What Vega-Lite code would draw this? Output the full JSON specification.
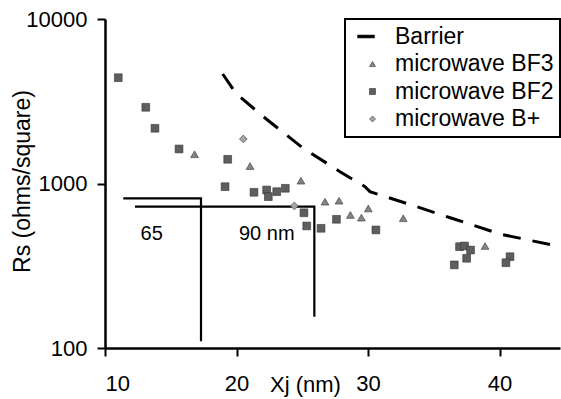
{
  "$schema": "https://vega.github.io/schema/vega-lite/v6.json",
  "width": 455,
  "height": 329,
  "autosize": {"type": "none"},
  "padding": {"left": 105, "top": 19, "right": 1, "bottom": 51},
  "background": "white",
  "config": {
    "view": {"stroke": null},
    "font": "Liberation Sans",
    "axis": {
      "grid": false,
      "domainColor": "black",
      "domainWidth": 2.5,
      "tickColor": "black",
      "tickWidth": 2,
      "tickSize": 8,
      "labelFont": "Liberation Sans",
      "labelFontSize": 22,
      "labelColor": "black",
      "titleFont": "Liberation Sans",
      "titleFontSize": 22,
      "titleFontWeight": "normal",
      "titleColor": "black"
    },
    "legend": {
      "labelFont": "Liberation Sans",
      "labelFontSize": 23,
      "labelColor": "black",
      "symbolSize": 36,
      "symbolOffset": 10,
      "labelOffset": 11,
      "rowPadding": 3.5,
      "padding": 6,
      "strokeColor": "black",
      "strokeWidth": 2,
      "symbolStrokeWidth": 0.6,
      "symbolStrokeColor": "#333333"
    }
  },
  "datasets": {
    "points": [
      {"series": "microwave BF2", "x": 11.01, "y": 4398},
      {"series": "microwave BF2", "x": 13.1, "y": 2905},
      {"series": "microwave BF2", "x": 13.8, "y": 2166},
      {"series": "microwave BF2", "x": 15.63, "y": 1621},
      {"series": "microwave BF2", "x": 19.33, "y": 1403},
      {"series": "microwave BF2", "x": 19.13, "y": 957},
      {"series": "microwave BF2", "x": 21.33, "y": 884},
      {"series": "microwave BF2", "x": 22.29, "y": 913},
      {"series": "microwave BF2", "x": 22.42, "y": 832},
      {"series": "microwave BF2", "x": 23.06, "y": 892},
      {"series": "microwave BF2", "x": 23.71, "y": 935},
      {"series": "microwave BF2", "x": 25.13, "y": 664},
      {"series": "microwave BF2", "x": 25.34, "y": 552},
      {"series": "microwave BF2", "x": 26.43, "y": 534},
      {"series": "microwave BF2", "x": 27.6, "y": 606},
      {"series": "microwave BF2", "x": 30.6, "y": 522},
      {"series": "microwave BF2", "x": 36.96, "y": 413},
      {"series": "microwave BF2", "x": 37.34, "y": 417},
      {"series": "microwave BF2", "x": 37.8, "y": 394},
      {"series": "microwave BF2", "x": 37.5, "y": 351},
      {"series": "microwave BF2", "x": 36.56, "y": 320},
      {"series": "microwave BF2", "x": 40.8, "y": 359},
      {"series": "microwave BF2", "x": 40.49, "y": 330},
      {"series": "microwave BF3", "x": 16.81, "y": 1506},
      {"series": "microwave BF3", "x": 21.03, "y": 1277},
      {"series": "microwave BF3", "x": 24.9, "y": 1040},
      {"series": "microwave BF3", "x": 26.73, "y": 775},
      {"series": "microwave BF3", "x": 27.8, "y": 786},
      {"series": "microwave BF3", "x": 28.66, "y": 644},
      {"series": "microwave BF3", "x": 29.5, "y": 620},
      {"series": "microwave BF3", "x": 30.02, "y": 705},
      {"series": "microwave BF3", "x": 32.68, "y": 615},
      {"series": "microwave BF3", "x": 38.9, "y": 417},
      {"series": "microwave B+", "x": 20.52, "y": 1865},
      {"series": "microwave B+", "x": 24.4, "y": 730}
    ],
    "barrier": [
      {"x": 18.95, "y": 4632},
      {"x": 19.96, "y": 3534},
      {"x": 22.04, "y": 2548},
      {"x": 25.08, "y": 1637},
      {"x": 27.87, "y": 1180},
      {"x": 29.77, "y": 957},
      {"x": 30.15, "y": 892},
      {"x": 33.32, "y": 740},
      {"x": 36.37, "y": 615},
      {"x": 40.04, "y": 493},
      {"x": 44.6, "y": 413}
    ],
    "refs": [
      {"ref": "65", "i": 1, "x": 11.39, "y": 813},
      {"ref": "65", "i": 2, "x": 17.3, "y": 813},
      {"ref": "65", "i": 3, "x": 17.3, "y": 110},
      {"ref": "90", "i": 1, "x": 12.28, "y": 723},
      {"ref": "90", "i": 2, "x": 25.92, "y": 723},
      {"ref": "90", "i": 3, "x": 25.92, "y": 155}
    ],
    "labels": [
      {"x": 13.55, "y": 491, "text": "65"},
      {"x": 22.3, "y": 491, "text": "90 nm"}
    ]
  },
  "layer": [
    {
      "data": {"name": "barrier"},
      "mark": {"type": "line", "color": "black", "strokeWidth": 3, "strokeDash": [18, 12]},
      "encoding": {
        "x": {
          "field": "x", "type": "quantitative",
          "scale": {"domain": [10, 44.6], "nice": false, "zero": false},
          "axis": {"values": [10, 20, 30, 40], "title": "Xj (nm)", "labelBaseline": "alphabetic", "labelPadding": 34, "titleX": 200, "titleY": 43, "titleAlign": "center", "titleBaseline": "alphabetic"}
        },
        "y": {
          "field": "y", "type": "quantitative",
          "scale": {"type": "log", "domain": [100, 10000], "nice": false},
          "axis": {"values": [100, 1000, 10000], "format": "d", "title": "Rs (ohms/square)", "titleFontSize": 23, "labelPadding": 10, "labelBaseline": "middle", "titleX": -83, "titleY": 162, "titleAngle": 270, "titleAlign": "center", "titleBaseline": "middle"}
        }
      }
    },
    {
      "data": {"name": "refs"},
      "mark": {"type": "line", "color": "black", "strokeWidth": 2.2},
      "encoding": {
        "x": {"field": "x", "type": "quantitative"},
        "y": {"field": "y", "type": "quantitative"},
        "detail": {"field": "ref"},
        "order": {"field": "i", "type": "quantitative"}
      }
    },
    {
      "data": {"name": "labels"},
      "mark": {"type": "text", "fontSize": 20, "font": "Liberation Sans", "color": "black", "align": "center", "baseline": "middle"},
      "encoding": {
        "x": {"field": "x", "type": "quantitative"},
        "y": {"field": "y", "type": "quantitative"},
        "text": {"field": "text"}
      }
    },
    {
      "data": {"name": "points"},
      "mark": {"type": "point", "filled": true, "size": 60, "opacity": 1, "stroke": "#333333", "strokeWidth": 0.6},
      "encoding": {
        "x": {"field": "x", "type": "quantitative"},
        "y": {"field": "y", "type": "quantitative"},
        "color": {
          "field": "series", "type": "nominal",
          "scale": {"domain": ["Barrier", "microwave BF3", "microwave BF2", "microwave B+"], "range": ["black", "#858585", "#5e5e5e", "#a5a5a5"]},
          "legend": {"title": null, "orient": "none", "legendX": 240, "legendY": 0, "labelExpr": "datum.label + '        '"}
        },
        "shape": {
          "field": "series", "type": "nominal",
          "scale": {"domain": ["Barrier", "microwave BF3", "microwave BF2", "microwave B+"], "range": ["M-5,-0.5H0.7V0.5H-5Z", "triangle-up", "square", "diamond"]},
          "legend": {"title": null, "orient": "none", "legendX": 240, "legendY": 0, "labelExpr": "datum.label + '        '"}
        }
      }
    },
    {
      "mark": {"type": "rule", "color": "black", "strokeWidth": 2.5},
      "encoding": {"y": {"datum": 10000, "type": "quantitative"}}
    }
  ]
}
